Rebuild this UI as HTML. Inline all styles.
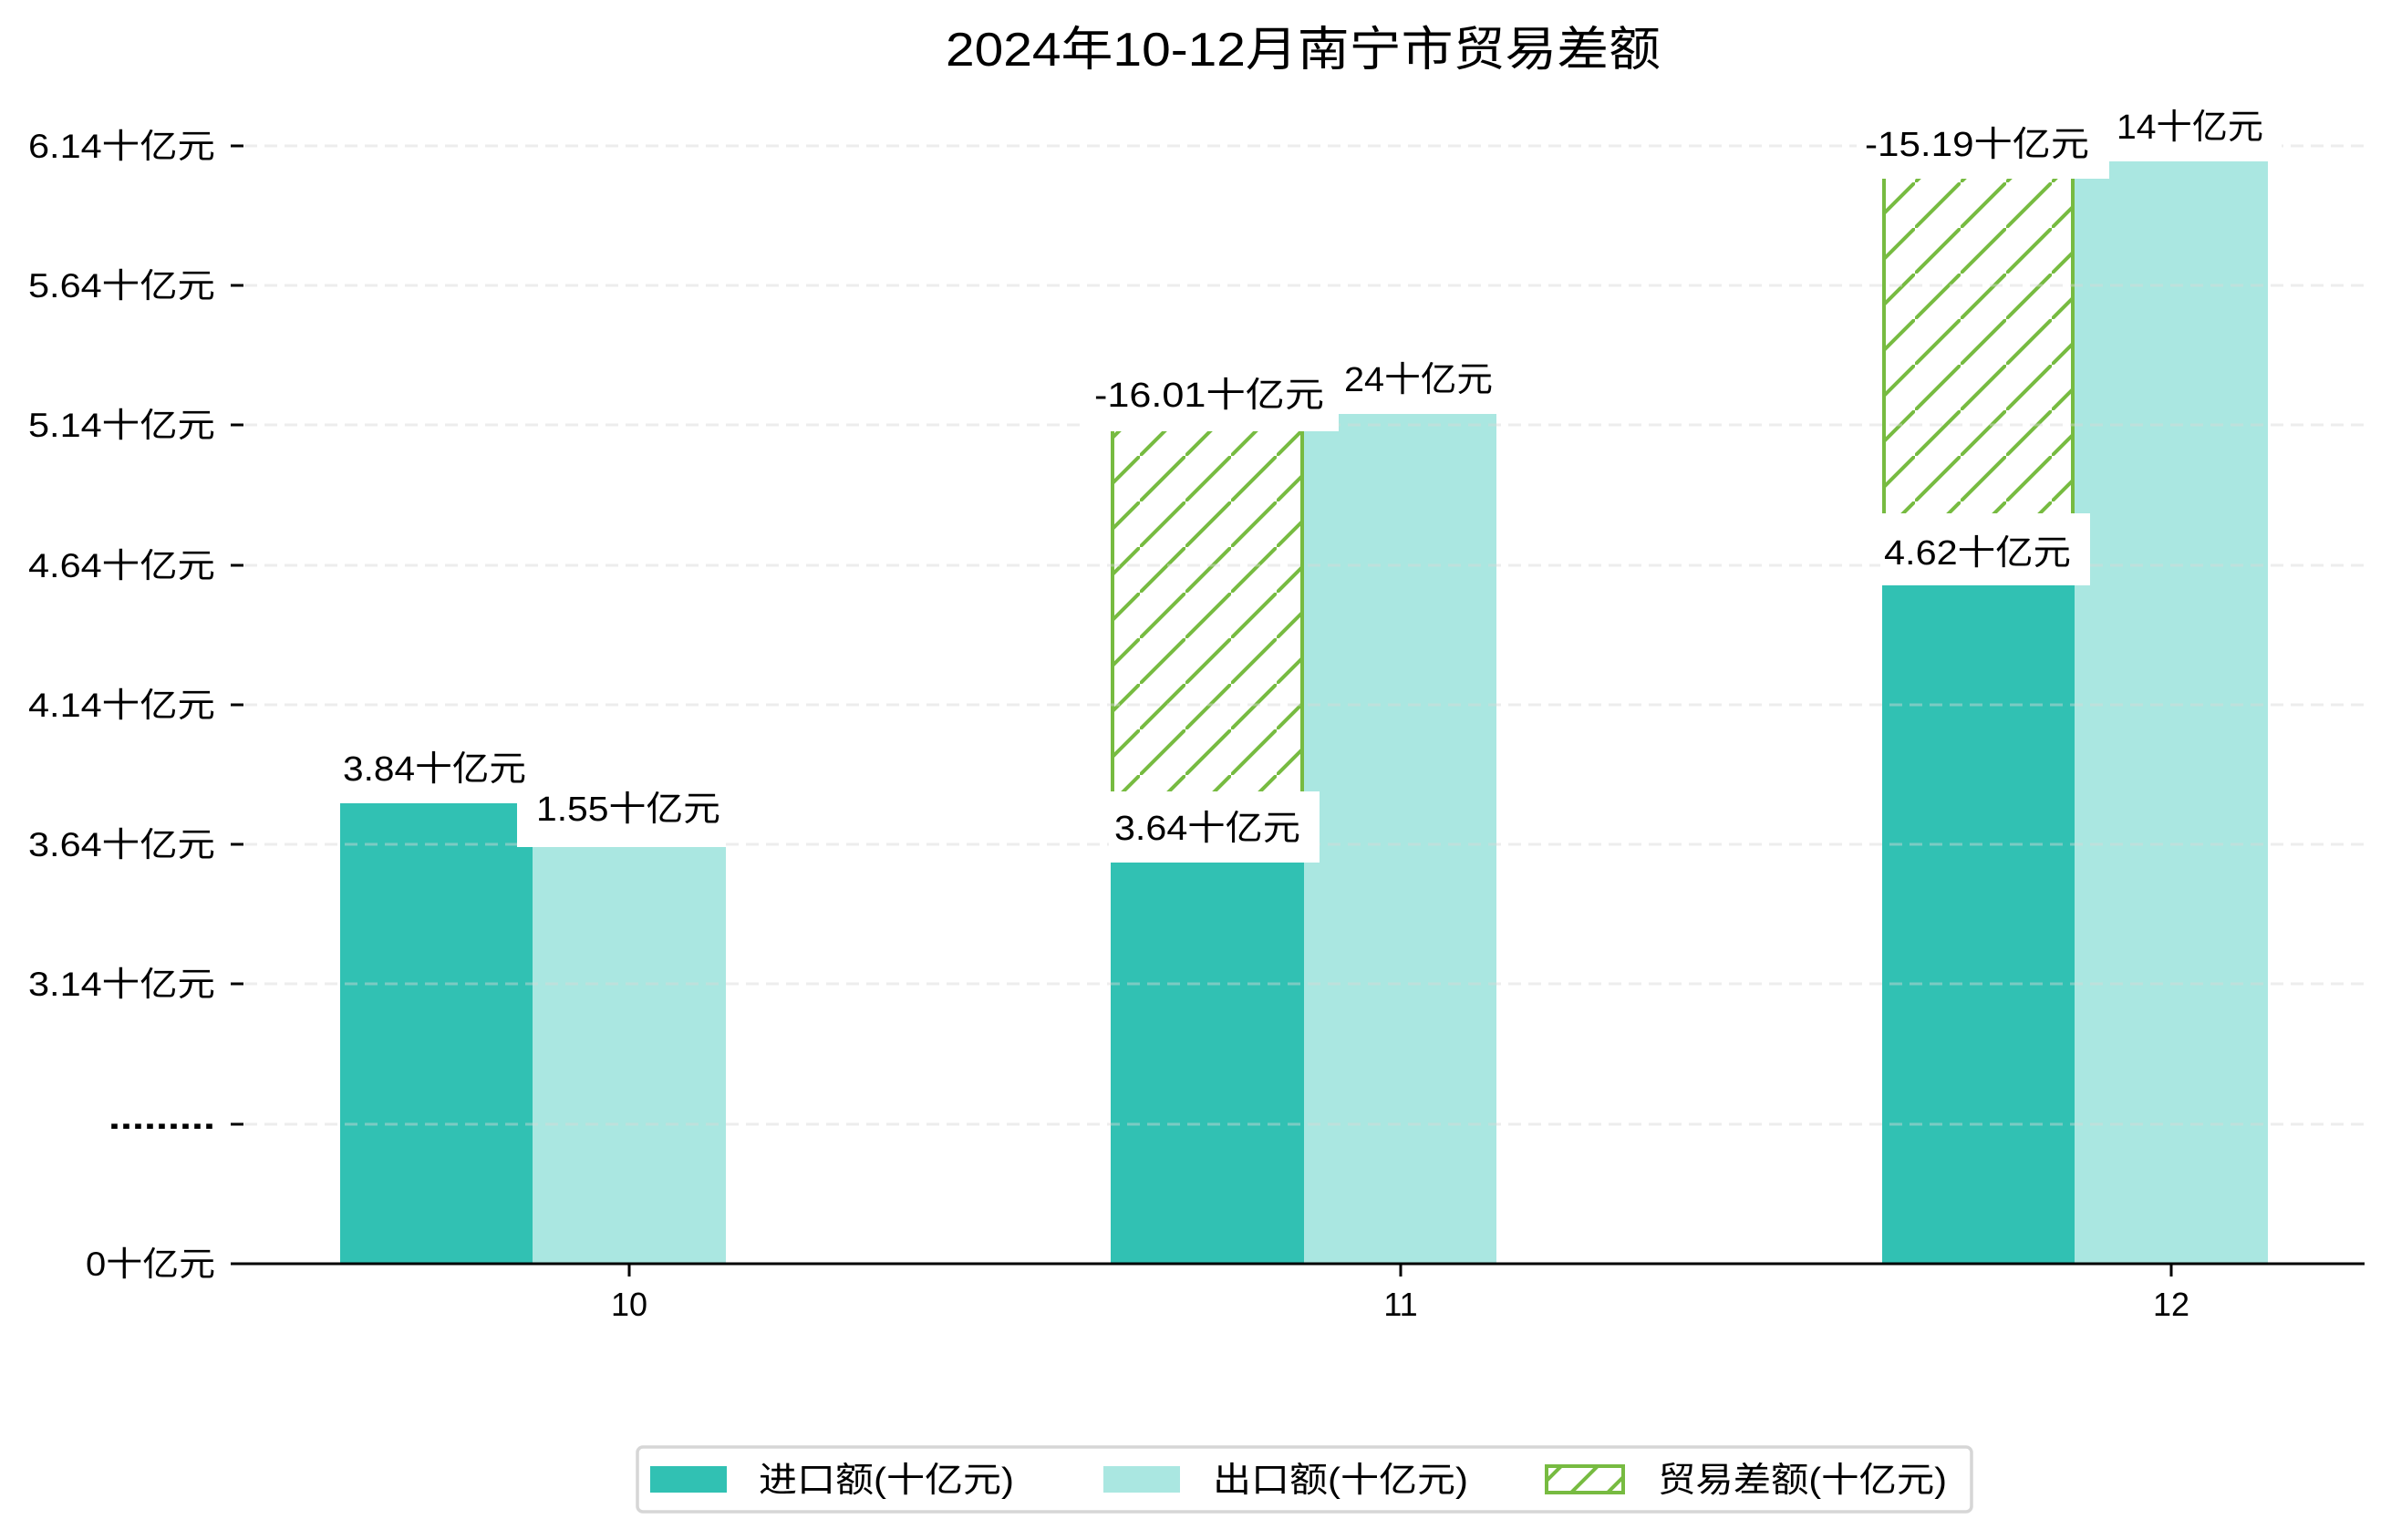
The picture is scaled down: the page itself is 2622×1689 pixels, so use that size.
<!DOCTYPE html>
<html><head><meta charset="utf-8"><style>html,body{margin:0;padding:0;background:#fff}svg{display:block}</style></head>
<body>
<svg width="2622" height="1689" viewBox="0 0 2622 1689" xmlns="http://www.w3.org/2000/svg" font-family="'Liberation Sans','WenQuanYi Zen Hei','Noto Sans CJK SC',sans-serif">
<defs>
<pattern id="h" patternUnits="userSpaceOnUse" width="50" height="50">
<path d="M-5 55 L55 -5" stroke="#77bb41" stroke-width="4"/>
</pattern>
<pattern id="hl" patternUnits="userSpaceOnUse" width="40" height="40" x="0" y="0">
<path d="M-5 45 L45 -5" stroke="#77bb41" stroke-width="4"/>
</pattern>
</defs>
<rect width="2622" height="1689" fill="#fff"/>
<text x="1429" y="72" font-size="52" text-anchor="middle" textLength="784" lengthAdjust="spacingAndGlyphs">2024年10-12月南宁市贸易差额</text>

<rect x="373" y="881" width="211" height="505" fill="#31c1b3"/>
<rect x="584" y="929" width="212" height="457" fill="#aae7e1"/>
<rect x="1218" y="946" width="212" height="440" fill="#31c1b3"/>
<rect x="1430" y="454" width="211" height="932" fill="#aae7e1"/>
<rect x="2064" y="642" width="211" height="744" fill="#31c1b3"/>
<rect x="2275" y="177" width="212" height="1209" fill="#aae7e1"/>
<rect x="1220" y="470" width="208" height="400" fill="url(#h)" stroke="#77bb41" stroke-width="4"/>
<rect x="2066" y="193" width="207" height="372" fill="url(#h)" stroke="#77bb41" stroke-width="4"/>

<g stroke="#d8d8d8" stroke-opacity="0.45" stroke-width="3" stroke-dasharray="14,8">
<line x1="268" y1="160" x2="2593" y2="160"/>
<line x1="268" y1="313" x2="2593" y2="313"/>
<line x1="268" y1="466" x2="2593" y2="466"/>
<line x1="268" y1="620" x2="2593" y2="620"/>
<line x1="268" y1="773" x2="2593" y2="773"/>
<line x1="268" y1="926" x2="2593" y2="926"/>
<line x1="268" y1="1079" x2="2593" y2="1079"/>
<line x1="268" y1="1233" x2="2593" y2="1233"/>
</g>

<g fill="#fff">
<rect x="567" y="853" width="229" height="76"/>
<rect x="1190" y="397" width="278" height="76"/>
<rect x="1216" y="868" width="231" height="78"/>
<rect x="2036" y="120" width="277" height="76"/>
<rect x="2062" y="563" width="230" height="79"/>
<rect x="2310" y="101" width="192" height="76"/>
</g>

<g font-size="38" fill="#000">
<text x="376" y="856" textLength="201" lengthAdjust="spacingAndGlyphs">3.84十亿元</text>
<text x="588" y="900" textLength="202" lengthAdjust="spacingAndGlyphs">1.55十亿元</text>
<text x="1200" y="446" textLength="252" lengthAdjust="spacingAndGlyphs">-16.01十亿元</text>
<text x="1474" y="429" textLength="163" lengthAdjust="spacingAndGlyphs">24十亿元</text>
<text x="1222" y="921" textLength="204" lengthAdjust="spacingAndGlyphs">3.64十亿元</text>
<text x="2045" y="171" textLength="246" lengthAdjust="spacingAndGlyphs">-15.19十亿元</text>
<text x="2321" y="152" textLength="161" lengthAdjust="spacingAndGlyphs">14十亿元</text>
<text x="2066" y="619" textLength="205" lengthAdjust="spacingAndGlyphs">4.62十亿元</text>
</g>

<line x1="253" y1="1386" x2="2593" y2="1386" stroke="#000" stroke-width="3"/>
<g stroke="#000" stroke-width="3">
<line x1="253" y1="160" x2="267" y2="160"/>
<line x1="253" y1="313" x2="267" y2="313"/>
<line x1="253" y1="466" x2="267" y2="466"/>
<line x1="253" y1="620" x2="267" y2="620"/>
<line x1="253" y1="773" x2="267" y2="773"/>
<line x1="253" y1="926" x2="267" y2="926"/>
<line x1="253" y1="1079" x2="267" y2="1079"/>
<line x1="253" y1="1233" x2="267" y2="1233"/>
<line x1="253" y1="1386" x2="267" y2="1386"/>
<line x1="690" y1="1386" x2="690" y2="1400"/>
<line x1="1536" y1="1386" x2="1536" y2="1400"/>
<line x1="2381" y1="1386" x2="2381" y2="1400"/>
</g>
<g font-size="37" text-anchor="end">
<text x="236" y="173" textLength="205" lengthAdjust="spacingAndGlyphs">6.14十亿元</text>
<text x="236" y="326" textLength="205" lengthAdjust="spacingAndGlyphs">5.64十亿元</text>
<text x="236" y="479" textLength="205" lengthAdjust="spacingAndGlyphs">5.14十亿元</text>
<text x="236" y="633" textLength="205" lengthAdjust="spacingAndGlyphs">4.64十亿元</text>
<text x="236" y="786" textLength="205" lengthAdjust="spacingAndGlyphs">4.14十亿元</text>
<text x="236" y="939" textLength="205" lengthAdjust="spacingAndGlyphs">3.64十亿元</text>
<text x="236" y="1092" textLength="205" lengthAdjust="spacingAndGlyphs">3.14十亿元</text>
<text x="236" y="1238" textLength="117" lengthAdjust="spacingAndGlyphs" font-weight="bold">.........</text>
<text x="236" y="1399" textLength="142" lengthAdjust="spacingAndGlyphs">0十亿元</text>
</g>
<g font-size="36" text-anchor="middle">
<text x="690" y="1443">10</text>
<text x="1536" y="1443">11</text>
<text x="2381" y="1443">12</text>
</g>

<rect x="699" y="1587" width="1463" height="71" rx="6" fill="#fff" stroke="#d6d6d6" stroke-width="3.5"/>
<rect x="713" y="1608" width="84" height="29" fill="#31c1b3"/>
<rect x="1210" y="1608" width="84" height="29" fill="#aae7e1"/>
<rect x="1696" y="1608" width="84" height="29" fill="url(#hl)" stroke="#77bb41" stroke-width="4"/>
<g font-size="38">
<text x="832" y="1636" textLength="280" lengthAdjust="spacingAndGlyphs">进口额(十亿元)</text>
<text x="1330" y="1636" textLength="280" lengthAdjust="spacingAndGlyphs">出口额(十亿元)</text>
<text x="1818" y="1636" textLength="317" lengthAdjust="spacingAndGlyphs">贸易差额(十亿元)</text>
</g>
</svg>
</body></html>
